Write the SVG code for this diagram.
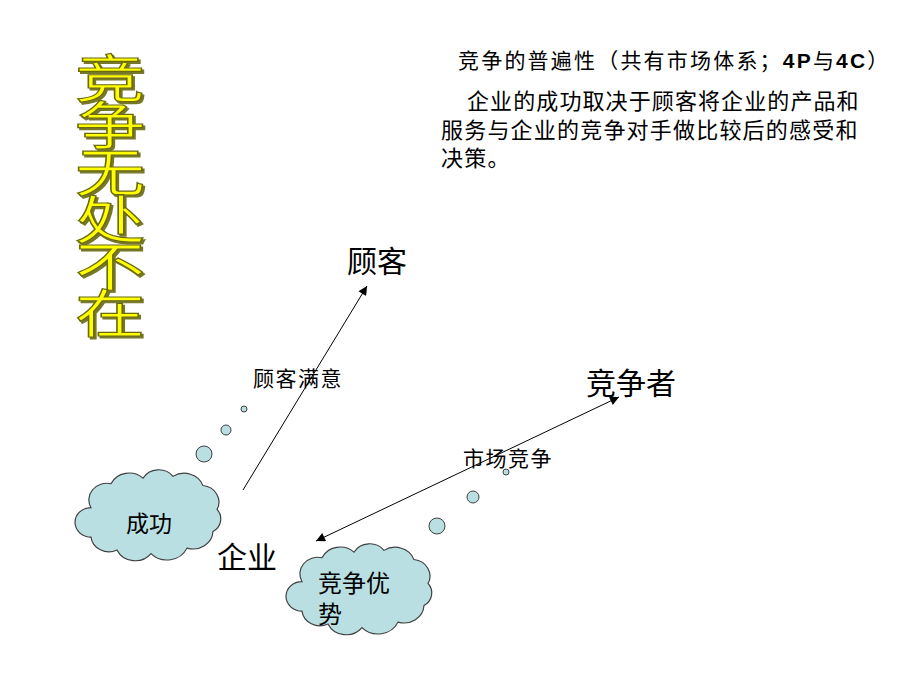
<svg xmlns="http://www.w3.org/2000/svg" width="920" height="690" viewBox="0 0 920 690">
<defs>
<style>
.t{font-family:"Liberation Sans","Noto Sans CJK SC",sans-serif;fill:#000}
.title{font-family:"Noto Sans CJK SC",sans-serif;font-size:52px;fill:#ffff00;stroke:#6b6b10;stroke-width:1.2;letter-spacing:-5px;writing-mode:tb}
.cloud{fill:#b9dfe2;stroke:#404040;stroke-width:1.2}
.bub{fill:#b9dfe2;stroke:#404040;stroke-width:1}
.conn{stroke:#000;stroke-width:1;fill:none}
.lbl{font-size:21px;letter-spacing:1.5px}
</style>
<filter id="sh" x="-20%" y="-10%" width="140%" height="120%">
<feOffset in="SourceAlpha" dx="2" dy="2" result="o"/>
<feFlood flood-color="#77772a"/>
<feComposite in2="o" operator="in" result="s"/>
<feMerge><feMergeNode in="s"/><feMergeNode in="SourceGraphic"/></feMerge>
</filter>
<marker id="ah" viewBox="0 0 10 10" refX="10" refY="5" markerWidth="10" markerHeight="9" markerUnits="userSpaceOnUse" orient="auto-start-reverse">
<path d="M0,0 L10,5 L0,10 Z" fill="#000"/>
</marker>
<path id="cloudShape" d="M14,42 A18,18 0 0 1 34,16 A20,20 0 0 1 66,10 A18,18 0 0 1 96,8 A20,20 0 0 1 126,18 A18,18 0 0 1 140,44 A16,16 0 0 1 136,68 A20,20 0 0 1 110,86 A22,22 0 0 1 74,92 A20,20 0 0 1 40,88 A18,18 0 0 1 14,74 A16,16 0 0 1 14,42 Z"/>
</defs>
<rect width="920" height="690" fill="#fff"/>

<g id="title" filter="url(#sh)">
<text class="title" transform="translate(110,0) scale(1.35,1)" x="0" y="52">竞争无处不在</text>
</g>

<g id="notes" class="t">
<text x="458" y="68" font-size="21" letter-spacing="2.2">竞争的普遍性（共有市场体系；<tspan font-weight="bold">4P</tspan>与<tspan font-weight="bold">4C</tspan>）</text>
<text x="467" y="109" font-size="22" letter-spacing="1.1">企业的成功取决于顾客将企业的产品和</text>
<text x="441" y="138" font-size="22" letter-spacing="1.2">服务与企业的竞争对手做比较后的感受和</text>
<text x="441" y="166" font-size="22" letter-spacing="1.2">决策。</text>
</g>

<g id="connectors">
<line class="conn" x1="243" y1="490" x2="367" y2="286" marker-end="url(#ah)"/>
<line class="conn" x1="316" y1="541" x2="619" y2="397" marker-start="url(#ah)" marker-end="url(#ah)"/>
</g>

<g id="customer"><text class="t" x="347" y="272" font-size="30">顾客</text></g>
<g id="competitor"><text class="t" x="586" y="394" font-size="30">竞争者</text></g>
<g id="enterprise"><text class="t" x="217" y="568" font-size="30">企业</text></g>
<g id="label-satisfaction"><text class="t lbl" x="253" y="386">顾客满意</text></g>
<g id="label-competition"><text class="t lbl" x="463" y="466">市场竞争</text></g>

<g id="cloud-success">
<use href="#cloudShape" class="cloud" transform="translate(77,469) scale(1.0,0.92)"/>
<circle class="bub" cx="204" cy="454" r="8"/>
<circle class="bub" cx="226" cy="430" r="5"/>
<circle class="bub" cx="244" cy="409" r="3"/>
<text class="t" x="149" y="532" font-size="23" text-anchor="middle">成功</text>
</g>

<g id="cloud-advantage">
<use href="#cloudShape" class="cloud" transform="translate(288,543) scale(1.0,0.92)"/>
<circle class="bub" cx="437" cy="526" r="8"/>
<circle class="bub" cx="473" cy="497" r="6"/>
<circle class="bub" cx="506" cy="472" r="3"/>
<text class="t" x="318" y="592" font-size="24">竞争优</text>
<text class="t" x="318" y="623" font-size="24">势</text>
</g>
</svg>
